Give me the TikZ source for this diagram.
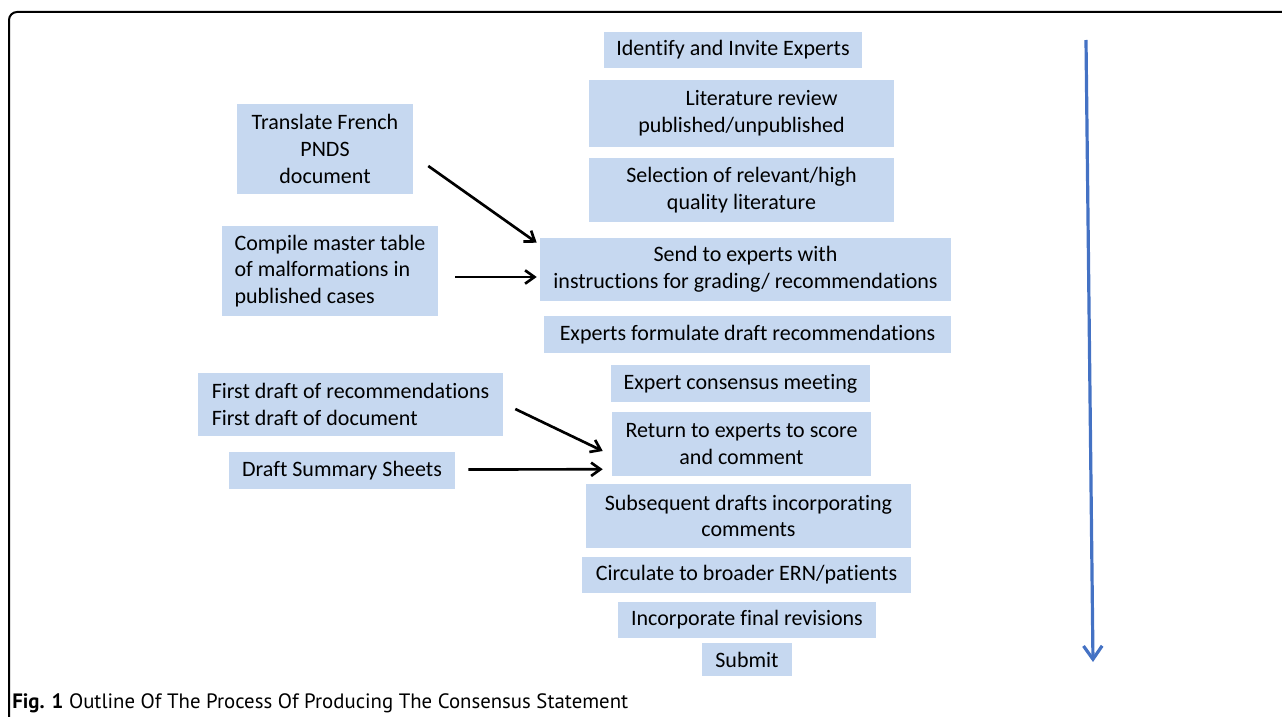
\documentclass[tikz,border=0pt]{standalone}
\usepackage{fontspec}
\setmainfont{Carlito}[Ligatures=NoCommon]
\newfontfamily\capfont{PT Sans}
\usetikzlibrary{
arrows.meta,
calc,
positioning
}
\definecolor{boxblue}{RGB}{198,216,240}
\definecolor{flowblue}{RGB}{68,114,196}
\tikzset{>={Straight Barb[length=7pt,width=10pt]}}

\begin{document}
\begin{tikzpicture}[x=0.75pt, y=-0.75pt,
	box/.style={fill=boxblue, inner sep=2pt, align=center, font=\fontsize{16.5}{20}\selectfont},
	link/.style={->, line width=2pt}]
	\useasboundingbox (0,0) rectangle (1282,717);
	\draw[line width=1.5pt, rounded corners=6pt] (9,760) -- (9,12) -- (1320,12);

	% main column
	\node[box, minimum width=193.5pt, minimum height=27pt]    (ident) at (733,50)     {Identify and Invite Experts};
	\node[box, minimum width=228.75pt, minimum height=50.25pt] (lit)  at (741.5,113.5) {\hspace*{30pt}Literature review\\published/unpublished};
	\node[box, minimum width=228.75pt, minimum height=48pt]   (sel)   at (741.5,190)  {Selection of relevant/high\\quality literature};
	\node[box, minimum width=308.25pt, minimum height=47.25pt] (send) at (745.5,269.5) {Send to experts with\\instructions for grading/ recommendations};
	\node[box, minimum width=305.25pt, minimum height=27.75pt] (form) at (747.5,334.5) {Experts formulate draft recommendations};
	\node[box, minimum width=194.25pt, minimum height=27.75pt] (meet) at (740.5,383.5) {Expert consensus meeting};
	\node[box, minimum width=194.25pt, minimum height=48pt]   (ret)   at (741.5,444)  {Return to experts to score\\and comment};
	\node[box, minimum width=243.75pt, minimum height=48pt]   (subs)  at (748.5,516)  {Subsequent drafts incorporating\\comments};
	\node[box, minimum width=246.75pt, minimum height=27pt]   (circ)  at (746.5,575)  {Circulate to broader ERN/patients};
	\node[box, minimum width=193.5pt, minimum height=27pt]    (final) at (747,620)    {Incorporate final revisions};
	\node[box, minimum width=67.5pt, minimum height=24.75pt]  (submit) at (747,659.5) {Submit};

	% side inputs
	\node[box, minimum width=132pt, minimum height=67.5pt]    (trans) at (325,149)    {Translate French\\PNDS\\document};
	\node[box, align=left, minimum width=162pt, minimum height=67.5pt] (master) at (330,271) {Compile master table\\of malformations in\\published cases};
	\node[box, align=left, minimum width=228.75pt, minimum height=47.25pt] (draft) at (350.5,404.5) {First draft of recommendations\\First draft of document};
	\node[box, minimum width=169.5pt, minimum height=27.75pt] (sheets) at (342,470.5) {Draft Summary Sheets};

	\draw[link] ([shift={(15,17)}]trans.east) -- ([shift={(-3,5)}]send.north west);
	\draw[link] ([shift={(17,6)}]master.east) -- ([shift={(-3,7.5)}]send.west);
	\draw[link] ([shift={(12,4.5)}]draft.east) -- ([shift={(-9,7)}]ret.west);
	\draw[link] ([shift={(13,-1)}]sheets.east) -- ([shift={(-9,-7)}]ret.south west);

	\coordinate (flowtop) at (1086,40);
	\coordinate (flowend) at (1093,662);
	\draw[flowblue, line width=2.4pt, -{Straight Barb[length=10pt,width=14pt]}] (flowtop) -- (flowend);

	\node[anchor=base west, inner sep=0pt, font=\capfont\fontsize{15.6}{18}\selectfont] (caption) at (12,708) {\textbf{Fig. 1} Outline Of The Process Of Producing The Consensus Statement};
\end{tikzpicture}
\end{document}
